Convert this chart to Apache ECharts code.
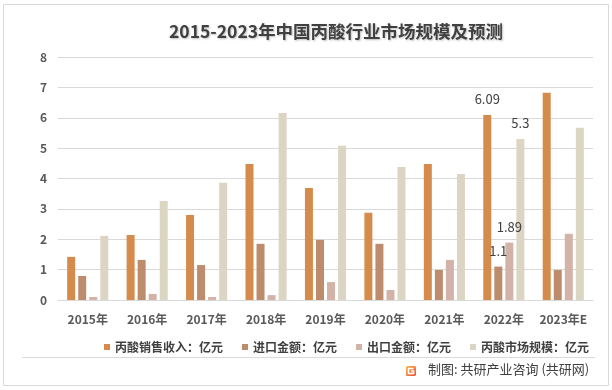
<!DOCTYPE html>
<html>
<head>
<meta charset="utf-8">
<script src="https://cdn.jsdelivr.net/npm/echarts@6/dist/echarts.min.js"></script>
<style>html,body{margin:0;padding:0;background:#fff}#c{width:612px;height:390px}</style>
</head>
<body>
<div id="c"></div>
<script>
var categories = ['2015年','2016年','2017年','2018年','2019年','2020年','2021年','2022年','2023年E'];
var salesRevenue = [1.42, 2.14, 2.80, 4.48, 3.69, 2.87, 4.48, 6.09, 6.82];
var importValue  = [0.79, 1.32, 1.15, 1.85, 1.98, 1.85, 0.99, 1.1, 0.99];
var exportValue  = [0.10, 0.20, 0.10, 0.16, 0.59, 0.33, 1.32, 1.89, 2.18];
var marketSize   = [2.11, 3.26, 3.86, 6.16, 5.08, 4.38, 4.15, 5.3, 5.67];
var seriesNames = ['丙酸销售收入：亿元','进口金额：亿元','出口金额：亿元','丙酸市场规模：亿元'];
var yTicks = [0,1,2,3,4,5,6,7,8];
var labeledIndex = 7;

var colors = ['#D58B4C','#BC8C6C','#D3B2A7','#DDD5C3'];
var FONT = '"Noto Sans CJK SC", "Noto Sans", sans-serif';

function build(values){
  return values.map(function(v,i){
    if(i===labeledIndex){
      return {value:v, label:{show:true, position:'top', distance:9, color:'#404040', fontSize:13, fontFamily:FONT}};
    }
    return v;
  });
}
var allData = [salesRevenue, importValue, exportValue, marketSize];
var series = allData.map(function(d,k){
  return {
    name: seriesNames[k], type:'bar', data: build(d),
    barWidth: 8, barGap: '38%',
    itemStyle:{color: colors[k]},
    emphasis:{disabled:true}
  };
});

var chart = echarts.init(document.getElementById('c'));
chart.setOption({
  animation:false,
  textStyle:{fontFamily:FONT},
  title:{
    text:'2015-2023年中国丙酸行业市场规模及预测',
    left:164, top:18,
    textStyle:{fontSize:17.5, fontWeight:'bold', color:'#404040', fontFamily:FONT,
      textShadowColor:'rgba(0,0,0,0.25)', textShadowBlur:2, textShadowOffsetX:1, textShadowOffsetY:1}
  },
  legend:{
    data: seriesNames, top:336, left:99,
    icon:'rect', itemWidth:6, itemHeight:6, itemGap:19,
    textStyle:{fontSize:12, color:'#404040', fontWeight:'bold', fontFamily:FONT}
  },
  grid:{left:58, right:19, top:57, bottom:90, containLabel:false},
  xAxis:{
    type:'category', data:categories,
    axisLine:{lineStyle:{color:'#d9d9d9'}},
    axisTick:{show:false},
    axisLabel:{interval:0, margin:13, fontSize:12, fontWeight:'bold', color:'#595959', fontFamily:FONT}
  },
  yAxis:{
    type:'value', min:yTicks[0], max:yTicks[yTicks.length-1], interval:1,
    axisLine:{show:false}, axisTick:{show:false},
    splitLine:{lineStyle:{color:'#d9d9d9'}},
    axisLabel:{margin:11, fontSize:12, fontWeight:'bold', color:'#595959', fontFamily:FONT}
  },
  series: series,
  graphic:[
    {type:'rect', shape:{x:3.5,y:4.5,width:605,height:381}, style:{fill:null, stroke:'#d9d9d9', lineWidth:1}, silent:true, z:-1},
    {type:'line', shape:{x1:22,y1:357.5,x2:595,y2:357.5}, style:{stroke:'#d9d9d9', lineWidth:1}, silent:true},
    {type:'rect', shape:{x:406,y:366,width:10,height:10,r:1.5},
      style:{fill:new echarts.graphic.LinearGradient(0,0,1,1,[{offset:0,color:'#F7B04A'},{offset:1,color:'#E8553A'}])}, silent:true},
    {type:'polyline', shape:{points:[[413.5,368.5],[408.5,368.5],[408.5,373.5],[413.5,373.5],[413.5,371],[411,371]]},
      style:{stroke:'#fff', lineWidth:1.6, fill:null}, silent:true},
    {type:'text', left:428, top:363, style:{text:'制图: 共研产业咨询 (共研网)', fontSize:13, fill:'#404040', fontFamily:FONT}, silent:true}
  ]
});
</script>
</body>
</html>
